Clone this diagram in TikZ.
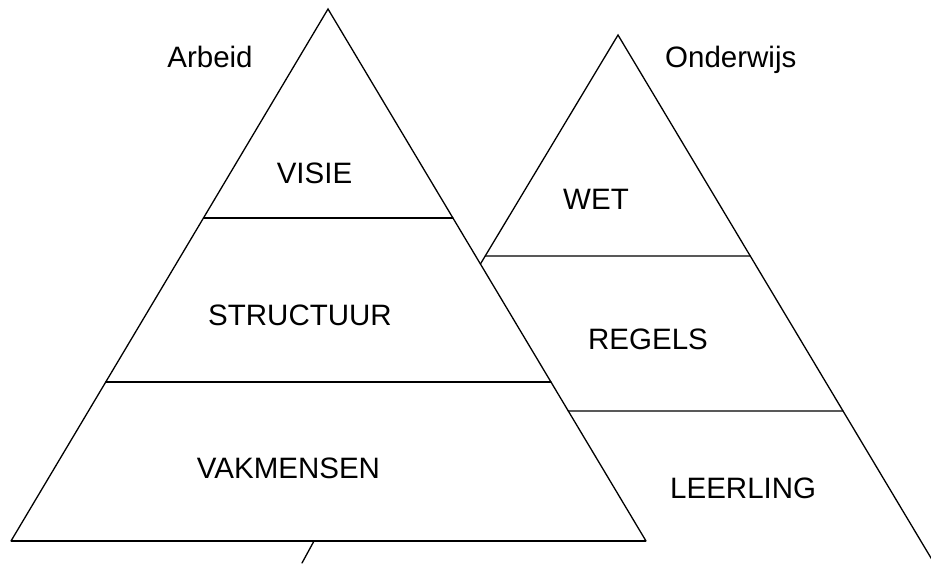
\documentclass[tikz,border=0pt]{standalone}
\usepackage{fontspec}
\setmainfont{Liberation Sans}
\usetikzlibrary{calc}
\begin{document}
\begin{tikzpicture}[x=1pt,y=-1pt,
  edge/.style={line width=1.3pt, line cap=round},
  baseln/.style={line width=2pt},
  lbl/.style={font=\fontsize{29.5}{30}\selectfont, inner sep=0pt, anchor=base}]
\useasboundingbox (0,0) rectangle (931,563);
% left pyramid
\coordinate (LA) at (328,9);
\coordinate (LL) at (11,541);
\coordinate (LR) at (646,541);
\draw[edge] (LL) -- (LA) -- (LR);
\draw[baseln] (LL) -- (LR);
\coordinate (L1a) at ($(LA)!0.3929!(LL)$);
\coordinate (L1b) at ($(LA)!0.3929!(LR)$);
\coordinate (L2a) at ($(LA)!0.7011!(LL)$);
\coordinate (L2b) at ($(LA)!0.7011!(LR)$);
\draw[edge] (L1a) -- (L1b);
\draw[edge] (L2a) -- (L2b);
% right pyramid
\coordinate (RA) at (618,35);
\coordinate (RB) at (934,563);
\coordinate (RM) at ($(LA)!0.4793!(LR)$);
\draw[edge] (RM) -- (RA) -- (RB);
\coordinate (R1a) at ($(RA)!0.965!(RM)$);
\coordinate (R1b) at ($(RA)!0.4186!(RB)$);
\coordinate (R2a) at ($(LA)!0.7556!(LR)$);
\coordinate (R2b) at ($(RA)!0.712!(RB)$);
\draw[edge] (R1a) -- (R1b);
\draw[edge] (R2a) -- (R2b);
% small stroke below base
\coordinate (Sa) at (314,541);
\coordinate (Sb) at (302,563);
\draw[edge] (Sa) -- (Sb);
% labels
\node[lbl] (arbeid) at (210,67) {Arbeid};
\node[lbl, anchor=base west] (onderwijs) at (665,67) {Onderwijs};
\node[lbl] (visie) at (314.5,183) {VISIE};
\node[lbl] (structuur) at (300,325) {STRUCTUUR};
\node[lbl] (vakmensen) at (288.5,478) {VAKMENSEN};
\node[lbl] (wet) at (596,209) {WET};
\node[lbl] (regels) at (648,349) {REGELS};
\node[lbl, anchor=base west] (leerling) at (670,498) {LEERLING};
\end{tikzpicture}
\end{document}
